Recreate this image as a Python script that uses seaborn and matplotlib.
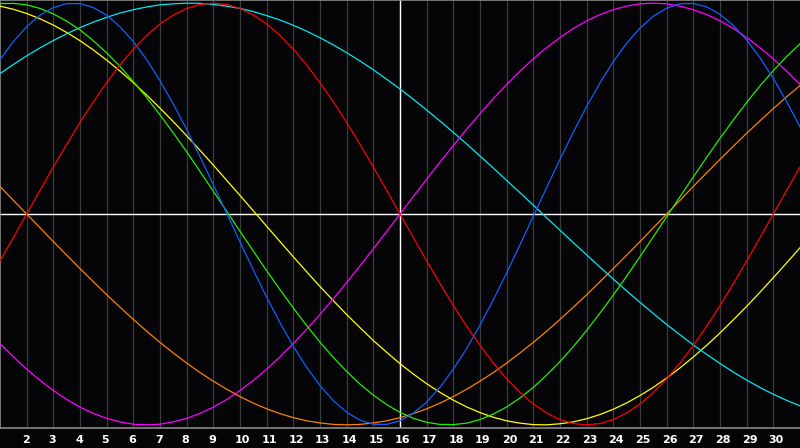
import numpy as np
import pandas as pd
import matplotlib
matplotlib.use("Agg")
import matplotlib.pyplot as plt
from matplotlib.transforms import ScaledTranslation
import seaborn as sns

# readings every half day, from day 1 to day 31
days = [d / 2 for d in range(2, 63)]
tick_days = list(range(2, 31))
tick_labels = [str(d) for d in tick_days]
today = 16

red = [-0.223, -0.112, 0.000, 0.112, 0.223, 0.330, 0.434, 0.532, 0.623, 0.707,
       0.782, 0.847, 0.901, 0.944, 0.975, 0.994, 1.000, 0.994, 0.975, 0.944,
       0.901, 0.847, 0.782, 0.707, 0.623, 0.532, 0.434, 0.330, 0.223, 0.112,
       0.000, -0.112, -0.223, -0.330, -0.434, -0.532, -0.623, -0.707, -0.782, -0.847,
       -0.901, -0.944, -0.975, -0.994, -1.000, -0.994, -0.975, -0.944, -0.901, -0.847,
       -0.782, -0.707, -0.623, -0.532, -0.434, -0.330, -0.223, -0.112, 0.000, 0.112,
       0.223]
blue = [0.732, 0.818, 0.888, 0.943, 0.979, 0.998, 0.998, 0.979, 0.943, 0.888,
        0.818, 0.732, 0.632, 0.521, 0.401, 0.272, 0.139, 0.003, -0.132, -0.266,
        -0.394, -0.516, -0.627, -0.727, -0.814, -0.885, -0.940, -0.978, -0.997, -0.998,
        -0.981, -0.945, -0.892, -0.822, -0.736, -0.638, -0.527, -0.407, -0.279, -0.146,
        -0.010, 0.126, 0.259, 0.388, 0.510, 0.622, 0.723, 0.810, 0.882, 0.938,
        0.976, 0.997, 0.999, 0.982, 0.947, 0.894, 0.825, 0.741, 0.643, 0.533,
        0.413]
cyan = [0.666, 0.709, 0.750, 0.788, 0.823, 0.855, 0.884, 0.910, 0.933, 0.953,
        0.969, 0.982, 0.992, 0.997, 1.000, 0.999, 0.994, 0.986, 0.975, 0.960,
        0.941, 0.920, 0.895, 0.867, 0.836, 0.802, 0.765, 0.726, 0.684, 0.639,
        0.593, 0.544, 0.493, 0.441, 0.387, 0.332, 0.275, 0.218, 0.159, 0.101,
        0.042, -0.018, -0.077, -0.136, -0.194, -0.252, -0.309, -0.365, -0.419, -0.472,
        -0.524, -0.573, -0.621, -0.666, -0.709, -0.750, -0.788, -0.823, -0.855, -0.884,
        -0.910]
magenta = [-0.614, -0.677, -0.736, -0.789, -0.837, -0.880, -0.916, -0.946, -0.969, -0.986,
           -0.997, -1.000, -0.997, -0.986, -0.969, -0.946, -0.916, -0.880, -0.837, -0.789,
           -0.736, -0.677, -0.614, -0.547, -0.476, -0.402, -0.325, -0.246, -0.165, -0.083,
           0.000, 0.083, 0.165, 0.246, 0.325, 0.402, 0.476, 0.547, 0.614, 0.677,
           0.736, 0.789, 0.837, 0.880, 0.916, 0.946, 0.969, 0.986, 0.997, 1.000,
           0.997, 0.986, 0.969, 0.946, 0.916, 0.880, 0.837, 0.789, 0.736, 0.677,
           0.614]
green = [0.998, 0.999, 0.992, 0.975, 0.949, 0.915, 0.873, 0.822, 0.764, 0.700,
         0.628, 0.552, 0.470, 0.384, 0.295, 0.202, 0.108, 0.013, -0.082, -0.176,
         -0.269, -0.359, -0.446, -0.529, -0.608, -0.680, -0.747, -0.807, -0.859, -0.904,
         -0.941, -0.969, -0.988, -0.998, -0.999, -0.992, -0.975, -0.949, -0.915, -0.873,
         -0.822, -0.764, -0.700, -0.629, -0.552, -0.470, -0.384, -0.295, -0.202, -0.108,
         -0.013, 0.082, 0.176, 0.269, 0.359, 0.446, 0.529, 0.608, 0.680, 0.747,
         0.807]
yellow = [0.986, 0.971, 0.951, 0.926, 0.896, 0.861, 0.822, 0.778, 0.730, 0.678,
          0.623, 0.564, 0.502, 0.438, 0.371, 0.302, 0.232, 0.160, 0.088, 0.015,
          -0.058, -0.131, -0.203, -0.274, -0.344, -0.411, -0.477, -0.539, -0.600, -0.656,
          -0.710, -0.759, -0.805, -0.846, -0.883, -0.915, -0.942, -0.964, -0.981, -0.992,
          -0.999, -1.000, -0.995, -0.986, -0.971, -0.951, -0.926, -0.896, -0.861, -0.822,
          -0.778, -0.730, -0.678, -0.623, -0.564, -0.502, -0.438, -0.371, -0.302, -0.232,
          -0.160]
orange = [0.131, 0.065, 0.000, -0.065, -0.131, -0.195, -0.259, -0.321, -0.383, -0.442,
          -0.500, -0.556, -0.609, -0.659, -0.707, -0.752, -0.793, -0.831, -0.866, -0.897,
          -0.924, -0.947, -0.966, -0.981, -0.991, -0.998, -1.000, -0.998, -0.991, -0.981,
          -0.966, -0.947, -0.924, -0.897, -0.866, -0.831, -0.793, -0.752, -0.707, -0.659,
          -0.609, -0.556, -0.500, -0.442, -0.383, -0.321, -0.259, -0.195, -0.131, -0.065,
          0.000, 0.065, 0.131, 0.195, 0.259, 0.321, 0.383, 0.442, 0.500, 0.556,
          0.609]

series = {"orange": orange, "yellow": yellow, "cyan": cyan, "magenta": magenta,
          "green": green, "blue": blue, "red": red}
palette = {"orange": "#ff8000", "yellow": "#ffff00", "cyan": "#00e8f0", "magenta": "#ff00ff",
           "green": "#22ee00", "blue": "#1060ff", "red": "#ff0000"}

df = pd.concat([pd.DataFrame({"day": days, "value": v, "curve": k}) for k, v in series.items()],
               ignore_index=True)

bg = "#050508"
fig = plt.figure(figsize=(8, 4.48), dpi=100, facecolor=bg)
ax = fig.add_axes([0, 20 / 448, 1, 428 / 448])
ax.set_facecolor(bg)

for d in tick_days:
    ax.axvline(d, color="#3c3c3c", lw=0.9, zorder=1)
ax.axvline(today, color="white", lw=1.0, zorder=2)
ax.axhline(0, color="white", lw=1.0, zorder=2)

sns.lineplot(data=df, x="day", y="value", hue="curve", palette=palette, legend=False,
             lw=0.9, ax=ax, zorder=3, sort=False, estimator=None)

ax.set_xlim(1, 31)
ax.set_ylim(-1.015, 1.015)
ax.set_yticks([])
ax.set_xticks(tick_days)
ax.set_xticklabels(tick_labels, color="white", fontsize=8, fontweight="bold",
                   family="DejaVu Sans", ha="left")
ax.tick_params(axis="x", length=0, pad=5)
offset = ScaledTranslation(-5 / 100, 0, fig.dpi_scale_trans)
for lab in ax.get_xticklabels():
    lab.set_transform(lab.get_transform() + offset)
ax.set_xlabel("")
ax.set_ylabel("")
for side in ["left", "bottom", "top"]:
    ax.spines[side].set_color("#8a8a8a")
    ax.spines[side].set_linewidth(1.2)
ax.spines["right"].set_visible(False)

fig.savefig("out.png", dpi=100, facecolor=bg)
